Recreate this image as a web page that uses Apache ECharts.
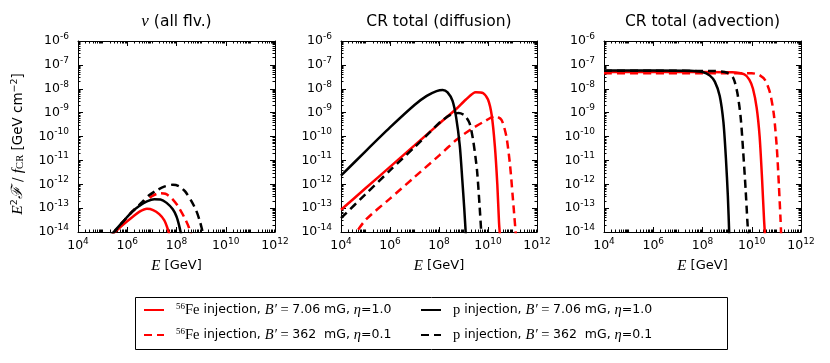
<!DOCTYPE html>
<html>
<head>
<meta charset="utf-8">
<script src="https://cdn.jsdelivr.net/npm/echarts@6/dist/echarts.min.js"></script>
<style>
  html,body{margin:0;padding:0;background:#fff;}
  #main{width:830px;height:363px;}
</style>
</head>
<body>
<div id="main"></div>
<script>
// every point is [log10(E / GeV), log10(E^2 F / f_CR)]
// neutrinos (all flavours)
var nuFe7   = [[5.3,-14.2],[5.45,-14.05],[5.8,-13.72],[6.2,-13.38],[6.5,-13.15],[6.8,-13.03],[7.05,-13.08],[7.3,-13.25],[7.5,-13.5],[7.62,-13.8],[7.72,-14.15]];
var nuFe362 = [[5.4,-14.1],[5.8,-13.6],[6.2,-13.15],[6.6,-12.8],[7.0,-12.5],[7.3,-12.38],[7.55,-12.4],[7.8,-12.58],[8.05,-12.9],[8.3,-13.35],[8.5,-13.8],[8.6,-14.15]];
var nuP7    = [[5.3,-14.15],[5.45,-14.0],[5.8,-13.6],[6.2,-13.15],[6.5,-12.9],[6.8,-12.72],[7.1,-12.63],[7.35,-12.64],[7.6,-12.78],[7.85,-13.05],[8.0,-13.35],[8.1,-13.7],[8.2,-14.15]];
var nuP362  = [[5.4,-14.1],[5.8,-13.6],[6.2,-13.15],[6.6,-12.75],[6.9,-12.45],[7.2,-12.25],[7.5,-12.1],[7.85,-12.02],[8.1,-12.08],[8.35,-12.3],[8.6,-12.7],[8.8,-13.1],[8.95,-13.55],[9.05,-13.95],[9.1,-14.2]];
// CR total, diffusion
var difFe7   = [[4,-13.07],[5,-12.17],[6,-11.27],[7,-10.37],[8,-9.47],[8.7,-8.85],[9.1,-8.45],[9.5,-8.15],[9.8,-8.18],[10.0,-8.45],[10.15,-9.1],[10.28,-10.4],[10.38,-12.0],[10.45,-13.6],[10.5,-14.3]];
var difFe362 = [[4.4,-14.35],[5,-13.5],[6,-12.6],[7,-11.7],[8,-10.8],[8.7,-10.15],[9.3,-9.7],[9.8,-9.4],[10.3,-9.15],[10.55,-9.3],[10.75,-10.0],[10.9,-11.2],[11.0,-12.4],[11.08,-13.4],[11.15,-14.3]];
var difP7    = [[4,-11.64],[5,-10.62],[6,-9.62],[7,-8.68],[7.5,-8.3],[7.9,-8.1],[8.15,-8.05],[8.35,-8.15],[8.55,-8.5],[8.7,-9.2],[8.85,-10.4],[8.95,-11.8],[9.03,-13.0],[9.1,-14.2]];
var difP362  = [[4,-13.42],[5,-12.42],[6,-11.42],[7,-10.45],[7.6,-9.85],[8.1,-9.35],[8.5,-9.08],[8.8,-9.02],[9.05,-9.12],[9.25,-9.45],[9.4,-10.2],[9.55,-11.4],[9.65,-12.8],[9.73,-14.1]];
// CR total, advection
var advFe7   = [[4,-7.3],[6,-7.3],[8,-7.3],[9.2,-7.31],[9.7,-7.4],[9.9,-7.62],[10.05,-8.0],[10.2,-8.8],[10.32,-10.0],[10.42,-11.8],[10.5,-13.5],[10.55,-14.3]];
var advFe362 = [[4,-7.35],[6,-7.35],[8,-7.35],[10,-7.35],[10.3,-7.42],[10.55,-7.65],[10.75,-8.2],[10.9,-9.1],[11.02,-10.5],[11.1,-12.0],[11.17,-13.5],[11.2,-14.3]];
var advP7    = [[4,-7.24],[6,-7.24],[7.5,-7.25],[8.0,-7.3],[8.3,-7.45],[8.5,-7.7],[8.7,-8.3],[8.85,-9.4],[8.95,-10.9],[9.03,-12.5],[9.09,-14.2]];
var advP362  = [[4,-7.25],[6,-7.25],[8.5,-7.26],[9.0,-7.33],[9.25,-7.55],[9.42,-8.2],[9.55,-9.2],[9.65,-10.6],[9.75,-12.2],[9.82,-13.5],[9.87,-14.3]];

var panelTitles = ['{nu|ν} (all flv.)', 'CR total (diffusion)', 'CR total (advection)'];

var chart = echarts.init(document.getElementById('main'));
var sans = 'DejaVu Sans';
var serif = 'Liberation Serif';

var panelLeft = [78, 341, 604];
var panelWidth = [197, 196, 197];
var panelTop = 41, panelHeight = 191;

// log minor ticks
var xMinor = [];
for (var n = 4; n < 12; n++) {
  if (n % 2 == 1) xMinor.push(n);
  for (var k = 2; k <= 9; k++) xMinor.push(n + Math.log10(k));
}
var yMinor = [];
for (var m = -14; m < -6; m++) {
  for (var j = 2; j <= 9; j++) yMinor.push(m + Math.log10(j));
}

var tickRich = {
  b: {fontFamily: sans, fontSize: 12.5, lineHeight: 18, color: '#000'},
  s: {fontFamily: sans, fontSize: 9, lineHeight: 10, verticalAlign: 'top', color: '#000'}
};
function powLabel(v) {
  return '{b|10}{s|' + Math.round(v) + '}';
}

var grids = [], xAxes = [], yAxes = [], series = [], graphics = [];

for (var g = 0; g < 3; g++) {
  grids.push({left: panelLeft[g], top: panelTop, width: panelWidth[g], height: panelHeight});

  var xb = {gridIndex: g, type: 'value', min: 4, max: 12, interval: 2, splitLine: {show: false}};
  xAxes.push(Object.assign({}, xb, {
    position: 'bottom',
    axisLine: {lineStyle: {color: '#000', width: 1}},
    axisTick: {inside: true, length: 5, lineStyle: {color: '#000'}},
    axisLabel: {formatter: powLabel, rich: tickRich, margin: 5},
    name: '{it|E} [GeV]', nameLocation: 'middle', nameGap: 26,
    nameTextStyle: {fontFamily: sans, fontSize: 13, color: '#000', lineHeight: 16,
      rich: {it: {fontFamily: serif, fontStyle: 'italic', fontSize: 15, lineHeight: 16}}}
  }));
  xAxes.push(Object.assign({}, xb, {
    position: 'bottom', axisLine: {show: false},
    axisTick: {inside: true, length: 2.5, customValues: xMinor, lineStyle: {color: '#000'}},
    axisLabel: {show: false}
  }));
  xAxes.push(Object.assign({}, xb, {
    position: 'top',
    axisLine: {lineStyle: {color: '#000', width: 1}},
    axisTick: {inside: true, length: 5, lineStyle: {color: '#000'}},
    axisLabel: {show: false}
  }));
  xAxes.push(Object.assign({}, xb, {
    position: 'top', axisLine: {show: false},
    axisTick: {inside: true, length: 2.5, customValues: xMinor, lineStyle: {color: '#000'}},
    axisLabel: {show: false}
  }));

  var yb = {gridIndex: g, type: 'value', min: -14, max: -6, interval: 1, splitLine: {show: false}};
  yAxes.push(Object.assign({}, yb, {
    position: 'left',
    axisLine: {lineStyle: {color: '#000', width: 1}},
    axisTick: {inside: true, length: 5, lineStyle: {color: '#000'}},
    axisLabel: {formatter: powLabel, rich: tickRich, margin: 9}
  }));
  yAxes.push(Object.assign({}, yb, {
    position: 'left', axisLine: {show: false},
    axisTick: {inside: true, length: 2.5, customValues: yMinor, lineStyle: {color: '#000'}},
    axisLabel: {show: false}
  }));
  yAxes.push(Object.assign({}, yb, {
    position: 'right',
    axisLine: {lineStyle: {color: '#000', width: 1}},
    axisTick: {inside: true, length: 5, lineStyle: {color: '#000'}},
    axisLabel: {show: false}
  }));
  yAxes.push(Object.assign({}, yb, {
    position: 'right', axisLine: {show: false},
    axisTick: {inside: true, length: 2.5, customValues: yMinor, lineStyle: {color: '#000'}},
    axisLabel: {show: false}
  }));

  // panel title
  graphics.push({
    type: 'text',
    x: panelLeft[g] + panelWidth[g] / 2, y: 22,
    style: {text: panelTitles[g], fontFamily: sans, fontSize: 15.5, fill: '#000', align: 'center', verticalAlign: 'middle',
      rich: {nu: {fontFamily: serif, fontStyle: 'italic', fontSize: 17}}}
  });
}

// y axis title, shared by the three panels
graphics.push({
  type: 'text', x: 18, y: 144, rotation: Math.PI / 2,
  style: {
    text: '{it|E}{sup|2}{it|ℱ}{rm| / }{it|f}{sub|CR}{rm| [GeV cm}{sup|−2}{rm|]}',
    fontFamily: sans, fontSize: 13.5, fill: '#000', align: 'center', verticalAlign: 'middle',
    rich: {
      it: {fontFamily: serif, fontStyle: 'italic', fontSize: 15.5, lineHeight: 16},
      rm: {fontFamily: sans, fontSize: 13.5, lineHeight: 16},
      sup: {fontFamily: sans, fontSize: 9.5, lineHeight: 9, verticalAlign: 'top'},
      sub: {fontFamily: serif, fontSize: 10.5, lineHeight: 10, verticalAlign: 'bottom'}
    }
  }
});

function curve(name, data, g, color, dashed) {
  return {
    name: name, type: 'line', xAxisIndex: 4 * g, yAxisIndex: 4 * g,
    data: data, symbol: 'none', smooth: 0.25, clip: true,
    lineStyle: {color: color, width: 2.5, type: dashed ? [8, 5] : 'solid'},
    itemStyle: {color: color}, animation: false
  };
}
var RED = '#ff0000', BLK = '#000000';
var sets = [[nuFe7, nuFe362, nuP7, nuP362], [difFe7, difFe362, difP7, difP362], [advFe7, advFe362, advP7, advP362]];
for (var p = 0; p < 3; p++) {
  series.push(curve('fe7', sets[p][0], p, RED, false));
  series.push(curve('fe362', sets[p][1], p, RED, true));
  series.push(curve('p7', sets[p][2], p, BLK, false));
  series.push(curve('p362', sets[p][3], p, BLK, true));
}

var legendText = {
  fe7: '{sup|56}{rmS|Fe} injection, {it|B′}{rmS| = }7.06 mG, {it|η}=1.0',
  fe362: '{sup|56}{rmS|Fe} injection, {it|B′}{rmS| = }362  mG, {it|η}=0.1',
  p7: '{rmS|p} injection, {it|B′}{rmS| = }7.06 mG, {it|η}=1.0',
  p362: '{rmS|p} injection, {it|B′}{rmS| = }362  mG, {it|η}=0.1'
};
var legendStyle = {
  fontFamily: sans, fontSize: 12.5, color: '#000', lineHeight: 16, padding: [0, 0, 0, 7],
  rich: {
    it: {fontFamily: serif, fontStyle: 'italic', fontSize: 14.5, lineHeight: 16},
    rmS: {fontFamily: serif, fontSize: 14.5, lineHeight: 16},
    sup: {fontFamily: serif, fontSize: 9, lineHeight: 9, verticalAlign: 'top'}
  }
};
function legendFmt(name) { return legendText[name]; }

graphics.push({
  type: 'rect', shape: {x: 135.5, y: 297.5, width: 592, height: 52},
  style: {fill: 'none', stroke: '#000', lineWidth: 1}, silent: true
});

var legendBase = {orient: 'vertical', top: 302, padding: 0, itemGap: 9, itemWidth: 20, itemHeight: 12,
  itemStyle: {opacity: 0}, formatter: legendFmt, textStyle: legendStyle, selectedMode: false};

chart.setOption({
  animation: false,
  grid: grids,
  xAxis: xAxes,
  yAxis: yAxes,
  series: series,
  legend: [
    Object.assign({data: ['fe7', 'fe362'], left: 143}, legendBase),
    Object.assign({data: ['p7', 'p362'], left: 420}, legendBase)
  ],
  graphic: graphics
});
</script>
</body>
</html>
